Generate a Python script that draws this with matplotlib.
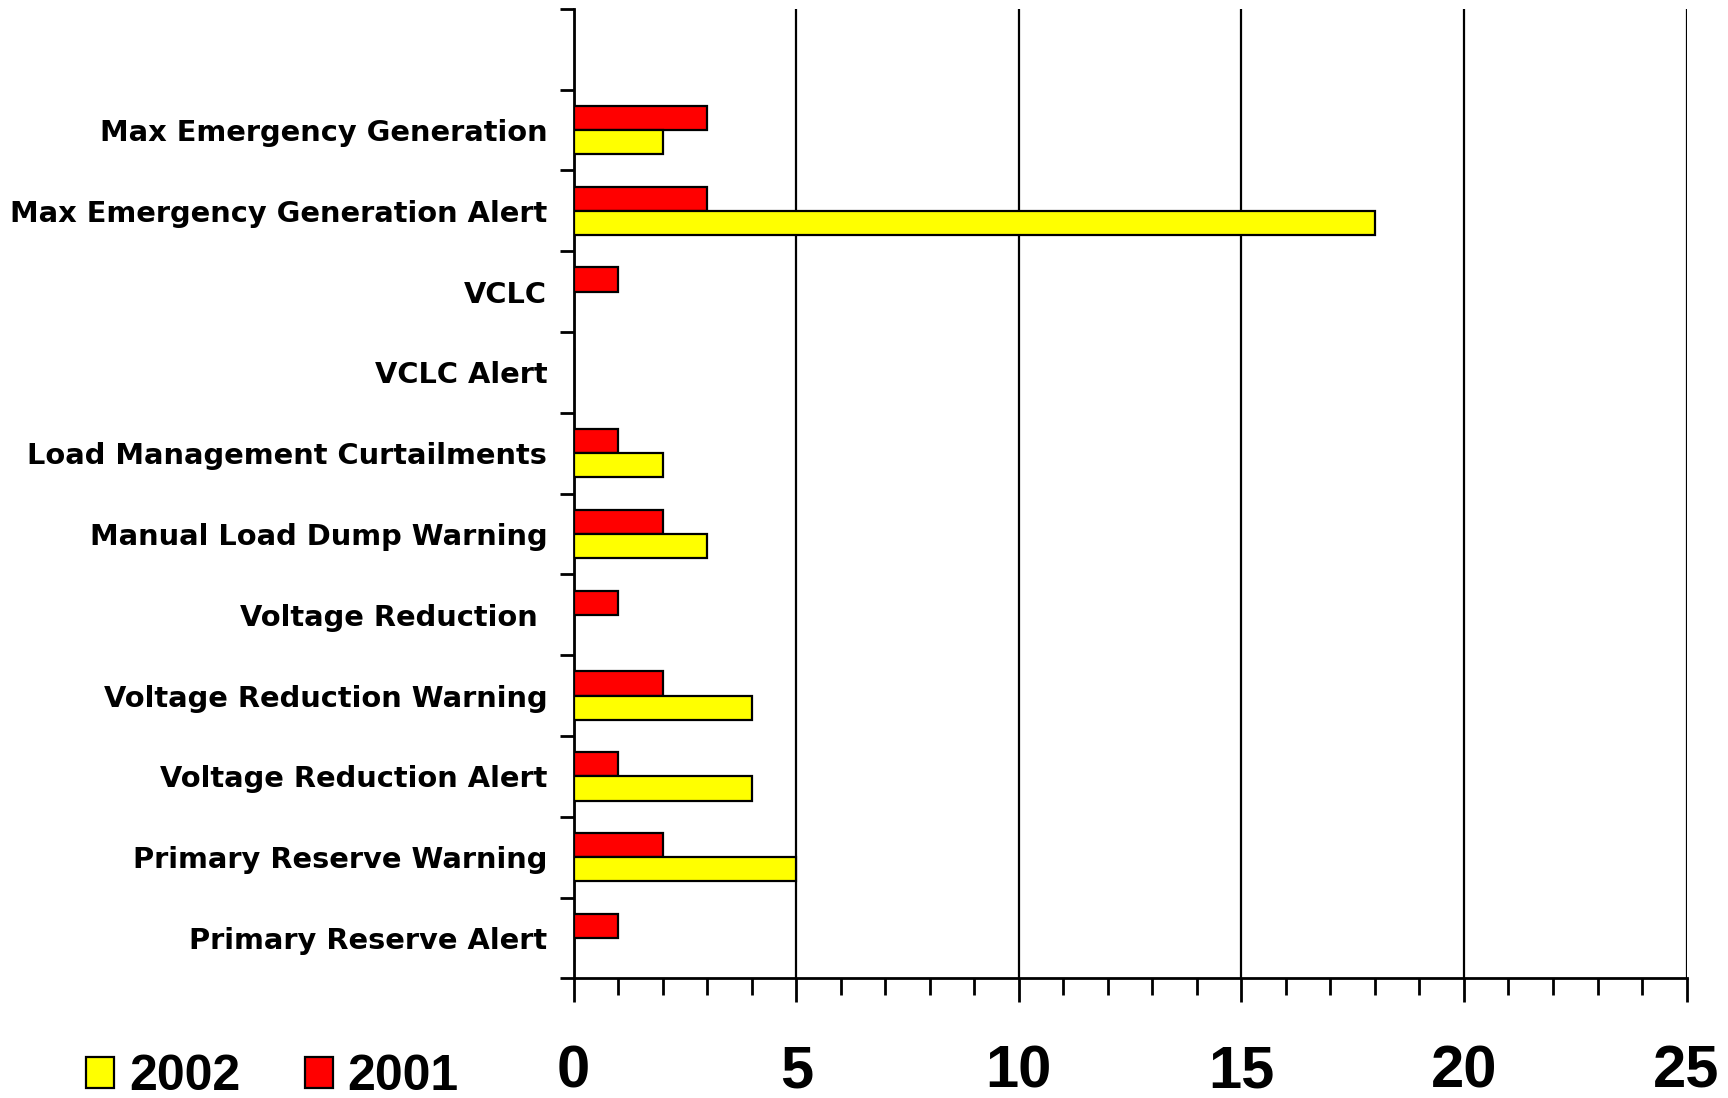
import matplotlib
matplotlib.use("Agg")
import matplotlib.pyplot as plt
from matplotlib.ticker import MultipleLocator, FixedLocator
import numpy as np

# ── Data (top to bottom as shown) ────────────────────────────────────────────
categories = [
    "Max Emergency Generation",
    "Max Emergency Generation Alert",
    "VCLC",
    "VCLC Alert",
    "Load Management Curtailments",
    "Manual Load Dump Warning",
    "Voltage Reduction ",
    "Voltage Reduction Warning",
    "Voltage Reduction Alert",
    "Primary Reserve Warning",
    "Primary Reserve Alert",
]
v2001 = [3, 3, 1, 0, 1, 2, 1, 2, 1, 2, 1]
v2002 = [2, 18, 0, 0, 2, 3, 0, 4, 4, 5, 0]

C_2002 = "#FFFF00"
C_2001 = "#FF0000"
FONT_CAT = "DejaVu Sans"
FONT_NUM = ["Liberation Sans Narrow", "Liberation Sans"]

fig = plt.figure(figsize=(17.28, 10.98), dpi=100)
ax = fig.add_axes([0.332, 0.109, 0.644, 0.883])

n = len(categories)
ypos = np.arange(n)[::-1]          # first category on top
bh = 0.3

ax.barh(ypos + bh / 2, v2001, height=bh, color=C_2001, edgecolor="black",
        linewidth=1.6, zorder=3)
ax.barh(ypos - bh / 2, v2002, height=bh, color=C_2002, edgecolor="black",
        linewidth=1.6, zorder=3)

ax.set_xlim(0, 25)
ax.set_ylim(-0.5, n + 0.5)         # one empty slot on top

# x axis
ax.xaxis.set_major_locator(MultipleLocator(5))
ax.xaxis.set_minor_locator(MultipleLocator(1))
ax.tick_params(axis="x", which="major", length=17, width=2, pad=31,
               labelsize=43)
ax.tick_params(axis="x", which="minor", length=12, width=2)
ax.grid(axis="x", which="major", color="black", linewidth=1.6, zorder=1)

# y axis: ticks at slot boundaries, labels at centres
ax.yaxis.set_major_locator(FixedLocator(np.arange(-0.5, n + 1, 1.0)))
ax.yaxis.set_major_formatter(plt.NullFormatter())
ax.set_yticks(ypos, minor=True)
ax.set_yticklabels(categories, minor=True)
ax.tick_params(axis="y", which="major", length=10, width=2)
ax.tick_params(axis="y", which="minor", length=0, pad=19, labelsize=20.8)

for lbl in ax.get_yticklabels(minor=True):
    lbl.set_fontweight("bold")
    lbl.set_family(FONT_CAT)
for lbl in ax.get_xticklabels():
    lbl.set_fontweight("bold")
    lbl.set_family(FONT_NUM)

for s in ["top", "right"]:
    ax.spines[s].set_visible(False)
for s in ["left", "bottom"]:
    ax.spines[s].set_linewidth(2)

# ── Legend ──────────────────────────────────────────────────────────────────
h2002 = plt.Rectangle((0, 0), 1, 1, facecolor=C_2002, edgecolor="black", linewidth=1.6)
h2001 = plt.Rectangle((0, 0), 1, 1, facecolor=C_2001, edgecolor="black", linewidth=1.6)
fig.legend([h2002, h2001], ["2002", "2001"], ncol=2, frameon=False,
           loc="lower left", bbox_to_anchor=(0.024, -0.043),
           prop={"family": FONT_NUM, "weight": "bold", "size": 36},
           handlelength=0.55, handleheight=0.6, handletextpad=0.3,
           columnspacing=1.3)

fig.savefig("out.png", dpi=100, facecolor="white")
